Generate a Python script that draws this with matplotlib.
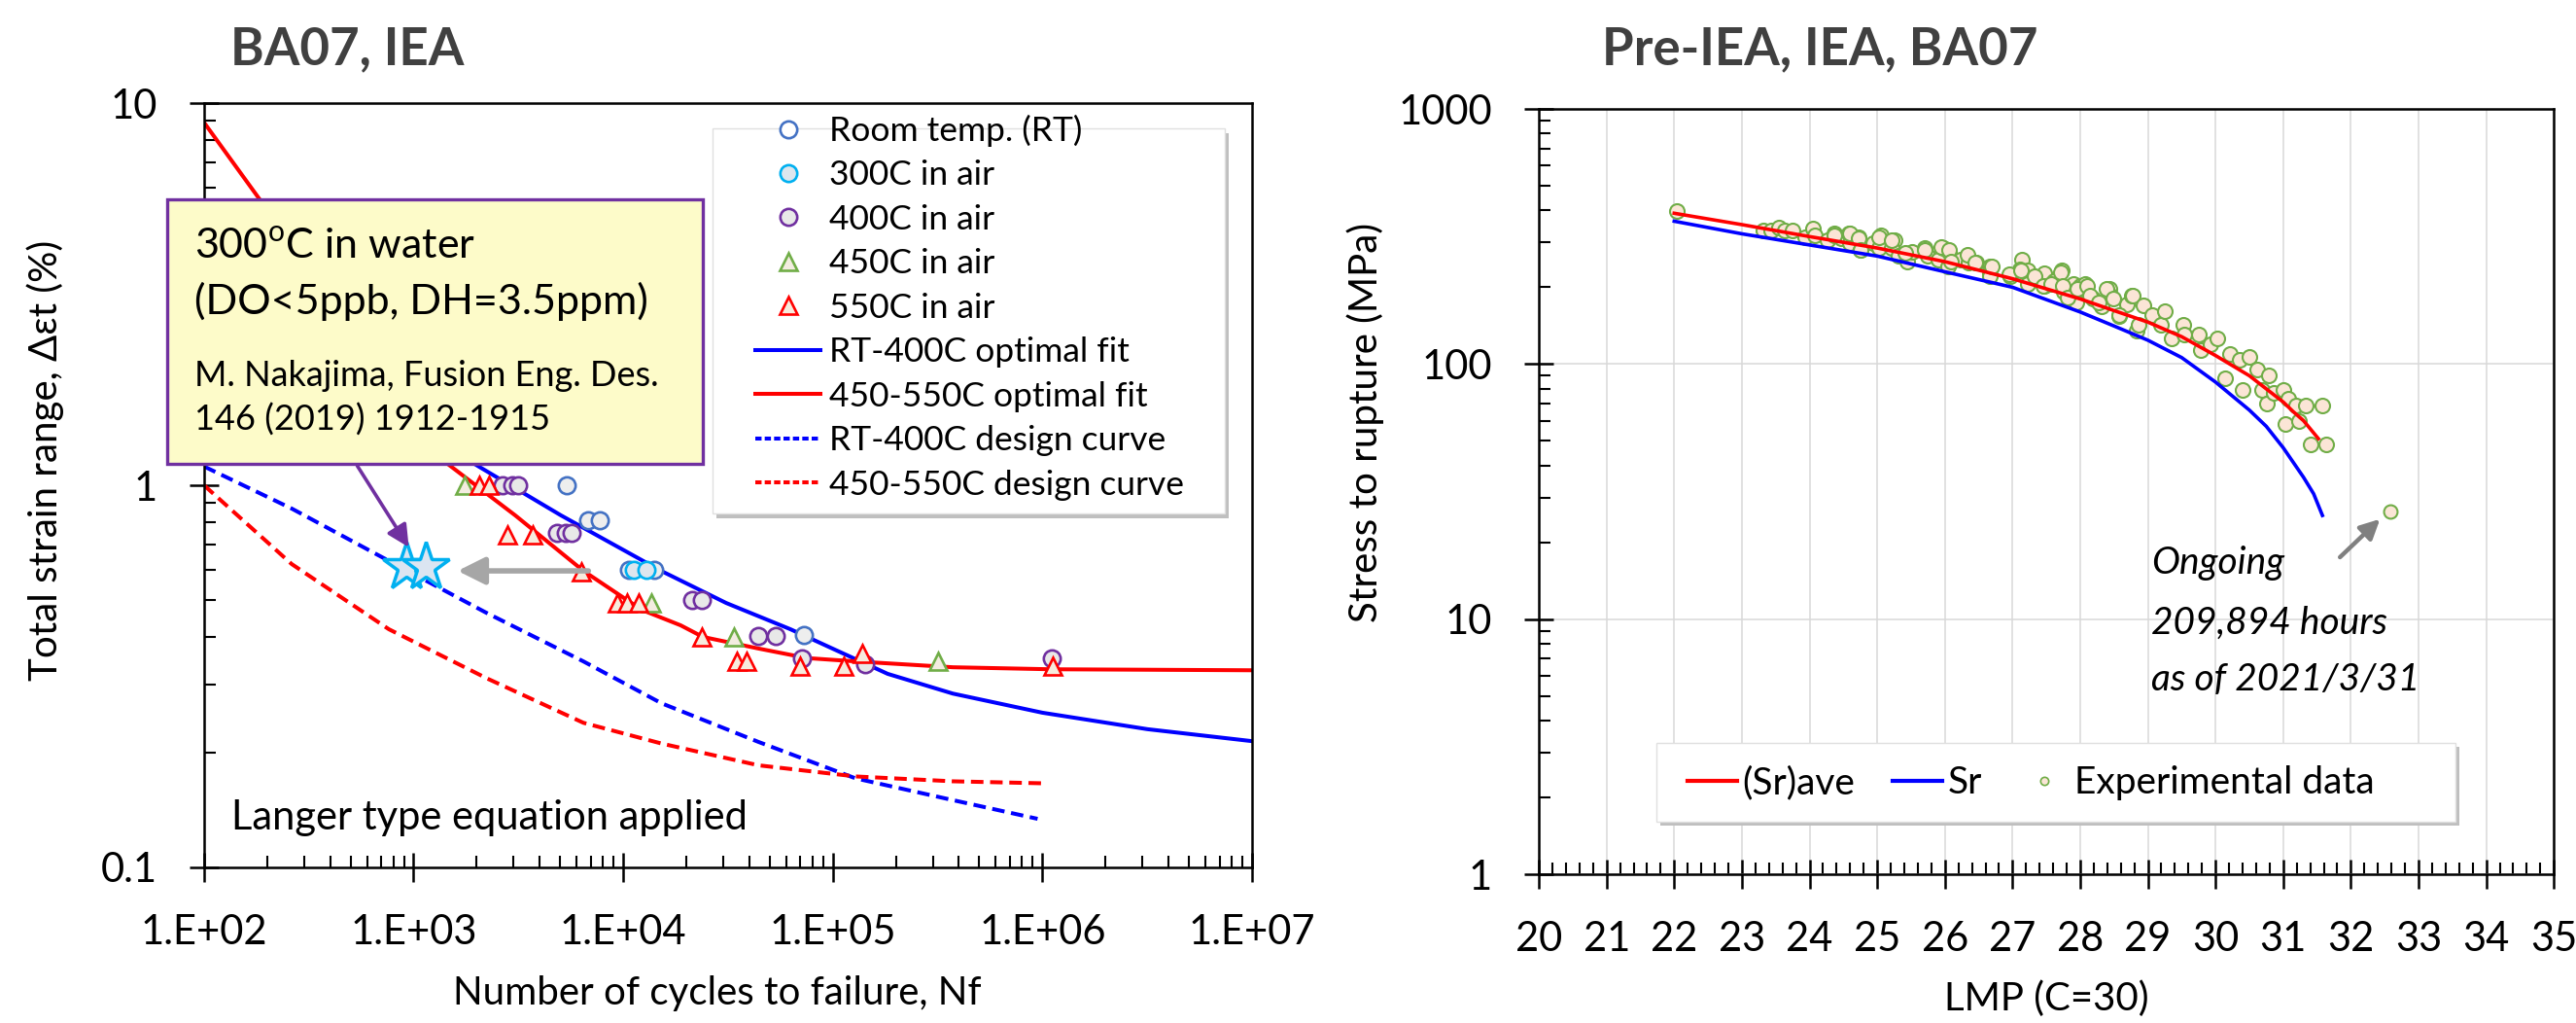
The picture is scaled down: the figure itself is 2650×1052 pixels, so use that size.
import numpy as np
import matplotlib
matplotlib.use("Agg")
import matplotlib.pyplot as plt
from matplotlib.patches import Rectangle
from matplotlib.lines import Line2D
from matplotlib.ticker import FixedLocator, FuncFormatter, NullFormatter, LogLocator, MultipleLocator

plt.rcParams['font.family'] = ['Lato', 'DejaVu Sans']
plt.rcParams['mathtext.fontset'] = 'custom'
plt.rcParams['mathtext.rm'] = 'Lato'

# ---------------- left chart: fatigue data (cycles, strain range %) ----------------
rt_n = [5380, 6810, 7740, 10670, 14100, 72900]
rt_e = [1.0, 0.81, 0.81, 0.60, 0.60, 0.405]
c300_n = [11240, 12910]
c300_e = [0.60, 0.60]
c400_n = [2660, 2960, 3150, 4830, 5320, 5680, 21350, 23800, 44200, 53500, 71400, 142900, 1110000]
c400_e = [1.0, 1.0, 1.0, 0.75, 0.75, 0.75, 0.50, 0.50, 0.403, 0.403, 0.352, 0.340, 0.352]
c450_n = [1754, 13650, 33800, 318000]
c450_e = [1.0, 0.492, 0.401, 0.346]
c550_n = [2055, 2290, 2810, 3700, 6310, 9380, 10450, 11870, 23800, 34900, 38800, 70000, 113000, 138600, 1125000]
c550_e = [1.0, 1.0, 0.742, 0.742, 0.594, 0.492, 0.492, 0.492, 0.401, 0.346, 0.346, 0.336, 0.336, 0.363, 0.336]

water_n = [923, 1143]
water_e = [0.611, 0.611]

# fitted curves
rtfit_n = [600, 2055, 5050, 15170, 31000, 62800, 99500, 182800, 374000, 1000000, 3170000, 10000000]
rtfit_e = [1.7, 1.118, 0.834, 0.597, 0.492, 0.420, 0.374, 0.321, 0.285, 0.254, 0.230, 0.214]
htfit_n = [100, 180, 447, 1446, 3055, 6460, 12250, 18800, 24000, 44100, 75300, 128500, 374000, 1090000, 10000000]
htfit_e = [8.9, 5.7, 2.85, 1.14, 0.834, 0.597, 0.472, 0.430, 0.401, 0.374, 0.353, 0.346, 0.334, 0.330, 0.328]
rtdes_n = [100, 262, 762, 2220, 6460, 15200, 44200, 128500, 374000, 949000]
rtdes_e = [1.12, 0.869, 0.634, 0.464, 0.346, 0.269, 0.213, 0.171, 0.150, 0.134]
htdes_n = [100, 262, 762, 2220, 6460, 15200, 44200, 128500, 374000, 1000000]
htdes_e = [1.0, 0.622, 0.420, 0.313, 0.239, 0.211, 0.185, 0.173, 0.168, 0.166]

# ---------------- right chart: creep rupture (LMP, stress MPa) ----------------
srave_lmp = [22, 23, 24, 25, 26, 27, 28, 28.5, 29, 29.5, 30, 30.5, 31, 31.15, 31.3, 31.52]
srave_s = [390, 352, 316, 285, 252, 216, 180, 162, 146, 128, 108, 90, 71, 65, 60, 51]
sr_lmp = [22, 23, 24, 25, 26, 27, 28, 28.5, 29, 29.5, 30, 30.5, 30.75, 31, 31.3, 31.45, 31.58]
sr_s = [363, 324, 293, 265, 230, 200, 160, 141, 124, 106, 85, 66, 57, 47, 36, 31, 25.5]

exp_lmp = [22.04, 23.31, 23.43, 23.55, 23.64, 23.75, 23.93, 24.05, 24.08, 24.27, 24.36, 24.46,
           24.58, 24.60, 24.72, 24.75, 24.94, 25.05, 25.03, 25.25, 25.22, 25.32, 25.44, 25.51,
           25.70, 25.75, 25.90, 25.97, 26.06, 26.04, 26.23, 26.35, 26.47, 26.66, 26.66, 26.97,
           27.14, 27.11, 27.23, 27.23, 27.47, 27.47, 27.61, 27.73, 27.76, 27.90, 28.00, 28.07,
           27.95, 28.19, 28.31, 28.43, 28.45, 28.57, 28.69, 28.76, 28.84,
           24.36, 24.60, 24.72, 24.75, 25.03, 25.22, 25.41, 25.70, 25.94, 26.06, 26.09, 26.33,
           26.45, 26.66, 26.69, 26.95, 27.12, 27.33, 27.45, 27.57, 27.71, 27.74, 27.81, 27.96,
           28.10, 28.15, 28.27, 28.39, 28.49, 28.58, 28.77, 28.86, 28.94, 29.06, 29.20, 29.25,
           29.35, 29.52, 29.54, 29.76, 29.78, 29.92, 30.02, 30.14, 30.21, 30.36, 30.40, 30.50,
           30.62, 30.69, 30.76, 30.79, 30.86, 31.00, 31.03, 31.07, 31.19, 31.24, 31.34, 31.41,
           31.58, 31.63]
exp_s = [398, 334, 334, 344, 334, 334, 315, 339, 320, 306, 326, 311,
         326, 297, 315, 281, 297, 320, 285, 306, 285, 265, 253, 276,
         285, 265, 256, 284, 276, 242, 256, 250, 249, 242, 225, 222,
         256, 235, 232, 206, 227, 203, 212, 232, 192, 206, 203, 206,
         175, 181, 168, 197, 186, 154, 171, 186, 135,
         320, 324, 310, 280, 314, 305, 272, 280, 288, 280, 252, 268,
         249, 221, 242, 224, 234, 221, 203, 206, 228, 203, 183, 197,
         203, 186, 175, 197, 180, 156, 186, 143, 170, 156, 143, 161,
         126, 143, 131, 131, 113, 120, 126, 88, 110, 104, 79, 107,
         95, 79, 70, 90, 77, 79, 58, 73, 69, 60, 69, 48.5,
         69, 48.5]
ongoing_lmp = [32.59]
ongoing_s = [26.4]

fig = plt.figure(figsize=(26.5, 10.52), dpi=100)
ax1 = fig.add_axes([0.0792, 0.1521, 0.4068, 0.7471])
ax2 = fig.add_axes([0.5974, 0.1454, 0.3940, 0.7481])

# ======================= left chart =======================
dash = (3.2, 1.7)
ax1.plot(rtdes_n, rtdes_e, color='#0000ff', lw=2.9, dashes=dash, zorder=2)
ax1.plot(htdes_n, htdes_e, color='#ff0000', lw=2.9, dashes=dash, zorder=2)
ax1.plot(rtfit_n, rtfit_e, color='#0000ff', lw=2.9, zorder=2)
ax1.plot(htfit_n, htfit_e, color='#ff0000', lw=2.9, zorder=2)

mk = dict(ls='none', mew=1.9, zorder=4)
ax1.plot(rt_n, rt_e, marker='o', ms=12.5, mec='#4472c4', mfc='#eeeeee', **mk)
ax1.plot(c300_n, c300_e, marker='o', ms=12.5, mec='#00b0f0', mfc='#dde6ee', **mk)
ax1.plot(c400_n, c400_e, marker='o', ms=12.5, mec='#7030a0', mfc='#e8e8e8', **mk)
ax1.plot(c450_n, c450_e, marker='^', ms=13, mec='#70ad47', mfc='#f3ece0', **mk)
ax1.plot(c550_n, c550_e, marker='^', ms=13, mec='#ff0000', mfc='#f7ebdd', **mk)

ax1.plot(water_n, water_e, marker='*', ms=37, mec='#00b0f0', mfc='#dbe5f1', mew=2.5, ls='none', zorder=5)

ax1.annotate('', xy=(1575, 0.597), xytext=(7030, 0.597),
             arrowprops=dict(arrowstyle='-|>', color='#a6a6a6', lw=4, mutation_scale=42), zorder=5)
ax1.annotate('', xy=(964, 0.679), xytext=(530, 1.14),
             arrowprops=dict(arrowstyle='-|>', color='#7030a0', lw=2.6, mutation_scale=34), zorder=5)

ax1.set_xscale('log')
ax1.set_yscale('log')
ax1.set_xlim(100, 1e7)
ax1.set_ylim(0.1, 10)
ax1.xaxis.set_major_locator(FixedLocator([1e2, 1e3, 1e4, 1e5, 1e6, 1e7]))
ax1.xaxis.set_major_formatter(FuncFormatter(lambda v, p: "1.E+%02d" % int(round(np.log10(v)))))
ax1.xaxis.set_minor_locator(LogLocator(base=10, subs=np.arange(2, 10), numticks=20))
ax1.xaxis.set_minor_formatter(NullFormatter())
ax1.yaxis.set_major_locator(FixedLocator([0.1, 1, 10]))
ax1.yaxis.set_major_formatter(FuncFormatter(lambda v, p: {0.1: '0.1', 1: '1', 10: '10'}.get(round(v, 3), '')))
ax1.yaxis.set_minor_locator(LogLocator(base=10, subs=np.arange(2, 10), numticks=20))
ax1.yaxis.set_minor_formatter(NullFormatter())

ax1.text(135, 0.126, 'Langer type equation applied', fontsize=30, va='baseline', ha='left', zorder=6)

# yellow annotation box
ax1.add_patch(Rectangle((-0.0353, 0.528), 0.5112, 0.346, transform=ax1.transAxes, clip_on=False,
                        facecolor='#fdfbc9', edgecolor='#7030a0', lw=2.4, zorder=7))
fig.text(200 / 2650, 1 - 265 / 1052, '300$^{\\rm o}$C in water', fontsize=31, va='baseline', zorder=8)
fig.text(200 / 2650, 1 - 323 / 1052, '(DO<5ppb, DH=3.5ppm)', fontsize=31, va='baseline', zorder=8)
fig.text(200 / 2650, 1 - 397 / 1052, 'M. Nakajima, Fusion Eng. Des.', fontsize=26, va='baseline', zorder=8)
fig.text(200 / 2650, 1 - 443 / 1052, '146 (2019) 1912-1915', fontsize=26, va='baseline', zorder=8)

# legend with manual frame and shadow
ax1.add_patch(Rectangle((0.489, 0.457), 0.489, 0.504, transform=ax1.transAxes, clip_on=False,
                        facecolor='#bfbfbf', edgecolor='none', zorder=6))
ax1.add_patch(Rectangle((0.485, 0.463), 0.489, 0.504, transform=ax1.transAxes, clip_on=False,
                        facecolor='white', edgecolor='#e0e0e0', lw=1, zorder=6.5))
h1 = [
    Line2D([], [], ls='none', marker='o', ms=12.5, mec='#4472c4', mfc='white', mew=1.9),
    Line2D([], [], ls='none', marker='o', ms=12.5, mec='#00b0f0', mfc='#dde6ee', mew=1.9),
    Line2D([], [], ls='none', marker='o', ms=12.5, mec='#7030a0', mfc='#e8e8e8', mew=1.9),
    Line2D([], [], ls='none', marker='^', ms=13, mec='#70ad47', mfc='#f3ece0', mew=1.9),
    Line2D([], [], ls='none', marker='^', ms=13, mec='#ff0000', mfc='#f7ebdd', mew=1.9),
    Line2D([], [], color='#0000ff', lw=2.9),
    Line2D([], [], color='#ff0000', lw=2.9),
    Line2D([], [], color='#0000ff', lw=2.9, dashes=(1.6, 0.8)),
    Line2D([], [], color='#ff0000', lw=2.9, dashes=(1.6, 0.8)),
]
l1 = ['Room temp. (RT)', '300C in air', '400C in air', '450C in air', '550C in air',
      'RT-400C optimal fit', '450-550C optimal fit', 'RT-400C design curve', '450-550C design curve']
leg1 = ax1.legend(h1, l1, loc='upper left', bbox_to_anchor=(0.526, 0.985), frameon=False,
                  fontsize=25.5, borderpad=0, borderaxespad=0, handlelength=1.9, handletextpad=0.25,
                  labelspacing=0.38)
leg1.set_zorder(8)

# ======================= right chart =======================
ax2.plot(exp_lmp, exp_s, ls='none', marker='o', ms=10.8, mec='#70ad47', mfc='#fbe5d6', mew=1.5, zorder=3)
ax2.plot(ongoing_lmp, ongoing_s, ls='none', marker='o', ms=10, mec='#70ad47', mfc='#fbe5d6', mew=1.5, zorder=3)
ax2.plot(srave_lmp, srave_s, color='#ff0000', lw=2.6, zorder=4)
ax2.plot(sr_lmp, sr_s, color='#0000ff', lw=2.6, zorder=4)

ax2.annotate('', xy=(32.46, 25.1), xytext=(31.81, 17.2),
             arrowprops=dict(arrowstyle='-|>', color='#808080', lw=3.2, mutation_scale=30), zorder=5)
ax2.text(29.05, 15.1, 'Ongoing', fontsize=28, style='italic', va='baseline')
ax2.text(29.05, 8.75, '209,894 hours', fontsize=28, style='italic', va='baseline')
ax2.text(29.05, 5.26, 'as of 2021/3/31', fontsize=28, style='italic', va='baseline')

ax2.set_yscale('log')
ax2.set_xlim(20, 35)
ax2.set_ylim(1, 1000)
ax2.xaxis.set_major_locator(MultipleLocator(1))
ax2.xaxis.set_minor_locator(MultipleLocator(0.2))
ax2.yaxis.set_major_locator(FixedLocator([1, 10, 100, 1000]))
ax2.yaxis.set_major_formatter(FuncFormatter(lambda v, p: '%d' % round(v)))
ax2.yaxis.set_minor_locator(LogLocator(base=10, subs=np.arange(2, 10), numticks=20))
ax2.yaxis.set_minor_formatter(NullFormatter())
ax2.grid(True, which='major', color='#d9d9d9', lw=1.1, zorder=0)
ax2.set_axisbelow(True)

ax2.add_patch(Rectangle((0.120, 0.0636), 0.787, 0.1029, transform=ax2.transAxes,
                        facecolor='#bfbfbf', edgecolor='none', zorder=6))
ax2.add_patch(Rectangle((0.116, 0.0686), 0.787, 0.1029, transform=ax2.transAxes,
                        facecolor='white', edgecolor='#e0e0e0', lw=1, zorder=6.5))
h2 = [Line2D([], [], color='#ff0000', lw=3),
      Line2D([], [], color='#0000ff', lw=3),
      Line2D([], [], ls='none', marker='o', ms=6, mec='#70ad47', mfc='#fbe5d6', mew=1.2)]
leg2 = ax2.legend(h2, ['(Sr)ave', 'Sr', 'Experimental data'], loc='center left',
                  bbox_to_anchor=(0.1466, 0.119), ncol=3, frameon=False, fontsize=28,
                  borderpad=0, borderaxespad=0, handlelength=1.3, handletextpad=0.15,
                  columnspacing=1.0)
leg2.set_zorder(8)

# ======================= shared styling =======================
for ax in (ax1, ax2):
    for s in ax.spines.values():
        s.set_linewidth(1.8)
        s.set_color('black')
    ax.tick_params(which='major', direction='inout', length=21, width=1.8, labelsize=30, pad=24)
    ax.tick_params(which='minor', direction='in', length=8.5, width=1.5)

fig.text(237 / 2650, 1 - 51 / 1052, 'BA07, IEA', fontsize=38, fontweight='bold', color='#404040', va='center')
fig.text(1648 / 2650, 1 - 51 / 1052, 'Pre-IEA, IEA, BA07', fontsize=38, fontweight='bold', color='#404040', va='center')

fig.text(738 / 2650, 1 - 1022 / 1052, 'Number of cycles to failure, Nf', fontsize=29, ha='center', va='center')
fig.text(2105 / 2650, 1 - 1027 / 1052, 'LMP (C=30)', fontsize=29, ha='center', va='center')
fig.text(47 / 2650, 1 - 473 / 1052, 'Total strain range, \u0394\u03b5t (%)', fontsize=29, rotation=90,
         ha='center', va='center')
fig.text(1405 / 2650, 1 - 435 / 1052, 'Stress to rupture (MPa)', fontsize=29, rotation=90,
         ha='center', va='center')

fig.savefig('out.png', dpi=100)
